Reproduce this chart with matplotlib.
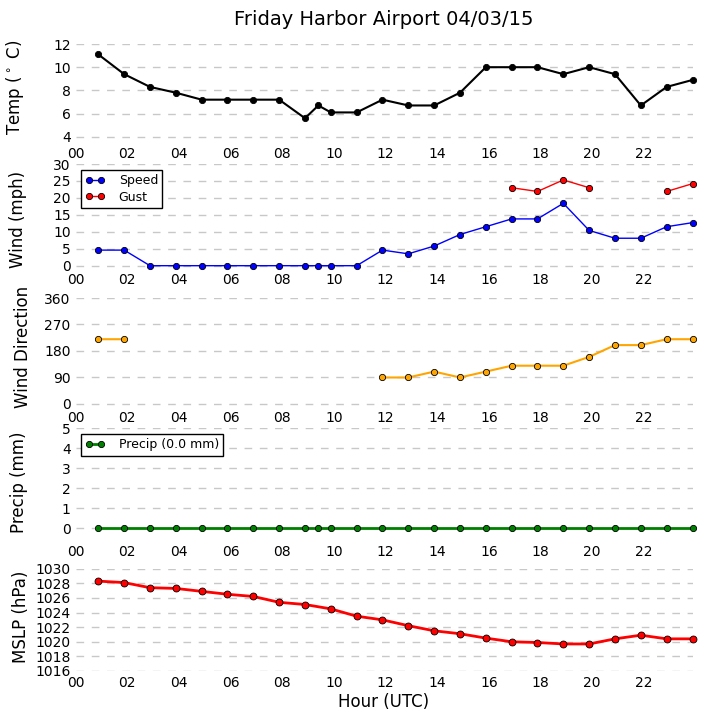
import numpy as np
import matplotlib
matplotlib.use('Agg')
import matplotlib.pyplot as plt

# ---------------- data ----------------
obs_times = ['00:53', '01:53', '02:53', '03:53', '04:53', '05:53', '06:53', '07:53',
             '08:53', '09:24', '09:53', '10:53', '11:53', '12:53', '13:53', '14:53',
             '15:53', '16:53', '17:53', '18:53', '19:53', '20:53', '21:53', '22:53', '23:53']
temp_c = [11.1, 9.4, 8.3, 7.8, 7.2, 7.2, 7.2, 7.2, 5.6, 6.7, 6.1, 6.1, 7.2,
          6.7, 6.7, 7.8, 10.0, 10.0, 10.0, 9.4, 10.0, 9.4, 6.7, 8.3, 8.9]
wind_speed = [4.6, 4.6, 0, 0, 0, 0, 0, 0, 0, 0, 0, 0, 4.6,
              3.5, 5.8, 9.2, 11.5, 13.8, 13.8, 18.4, 10.4, 8.1, 8.1, 11.5, 12.7]
gust_times = ['16:53', '17:53', '18:53', '19:53', '22:53', '23:53']
gust_vals = [23.0, 21.9, 25.3, 23.0, 21.9, 24.2]
wind_dir = [220, 220] + [np.nan] * 10 + [90, 90, 110, 90, 110, 130, 130, 130, 160, 200, 200, 220, 220]
precip_mm = [0.0] * 25
mslp = [1028.3, 1028.1, 1027.4, 1027.3, 1026.9, 1026.5, 1026.2, 1025.4, 1025.1, np.nan,
        1024.5, 1023.5, 1023.0, 1022.2, 1021.5, 1021.1, 1020.5, 1020.0, 1019.9, 1019.7,
        1019.7, 1020.4, 1020.9, 1020.4, 1020.4]

title = 'Friday Harbor Airport 04/03/15'
hour_ticks = list(range(0, 24, 2))
hour_labels = ['%02d' % h for h in hour_ticks]

# ---------------- derived ----------------
hours = np.array([int(t[:2]) + int(t[3:]) / 60.0 for t in obs_times])
gust_map = dict(zip(gust_times, gust_vals))
wind_gust = [gust_map.get(t, np.nan) for t in obs_times]

W, H = 705, 720
fig = plt.figure(figsize=(W / 100, H / 100), dpi=100)

x0, x1 = 75.5, 692.5


def add_ax(top, bottom):
    return fig.add_axes([x0 / W, 1 - bottom / H, (x1 - x0) / W, (bottom - top) / H])


grid_kw = dict(color='#c8c8c8', linestyle=(0, (5.5, 5.5)), linewidth=1)
mk = dict(marker='o', markeredgecolor='k', markeredgewidth=0.6, clip_on=False, zorder=3)


def style(ax, yticks, ylim, ylabel, lx, ly):
    for s in ax.spines.values():
        s.set_visible(False)
    ax.set_xlim(0, hours[-1])
    ax.set_xticks(hour_ticks)
    ax.set_xticklabels(hour_labels)
    ax.set_yticks(yticks)
    ax.set_ylim(*ylim)
    ax.tick_params(length=0, labelsize=10, pad=3.5)
    ax.yaxis.grid(True, **grid_kw)
    ax.set_axisbelow(True)
    ax.set_ylabel(ylabel, fontsize=12)
    ax.yaxis.set_label_coords(lx, ly)


def legend(ax):
    leg = ax.legend(loc='upper left', fontsize=9, fancybox=False, framealpha=1,
                    edgecolor='k', numpoints=2, handlelength=1.5, handletextpad=1.15,
                    borderpad=0.35, labelspacing=0.3, borderaxespad=0.45)
    leg.get_frame().set_linewidth(1.0)


# Temperature
ax1 = add_ax(44, 142)
ax1.plot(hours, temp_c, color='k', lw=1.5, markersize=4.5, **mk)
style(ax1, [4, 6, 8, 10, 12], (3.55, 12), r'Temp ($^\circ$ C)', -0.081, 0.556)
ax1.set_title(title, fontsize=14, pad=14)

# Wind speed / gust
ax2 = add_ax(164, 268)
ax2.plot(hours, wind_speed, color='blue', lw=1, markersize=4.5, label='Speed', **mk)
ax2.plot(hours, wind_gust, color='red', lw=1, markersize=4.5, label='Gust', **mk)
style(ax2, [0, 5, 10, 15, 20, 25, 30], (-0.68, 30), 'Wind (mph)', -0.078, 0.47)
legend(ax2)

# Wind direction
ax3 = add_ax(298, 406.4)
ax3.plot(hours, wind_dir, color='orange', lw=1.5, markersize=4.5, **mk)
style(ax3, [0, 90, 180, 270, 360], (-8.2, 360), 'Wind Direction', -0.070, 0.548)

# Precip
ax4 = add_ax(428.3, 539.7)
ax4.plot(hours, precip_mm, color='green', lw=2, markersize=4.5,
         label='Precip (%.1f mm)' % np.sum(precip_mm), **mk)
style(ax4, [0, 1, 2, 3, 4, 5], (-0.57, 5), 'Precip (mm)', -0.077, 0.518)
legend(ax4)

# MSLP
ax5 = add_ax(568.7, 671)
mslp_arr = np.array(mslp, dtype=float)
ok = ~np.isnan(mslp_arr)
ax5.plot(hours[ok], mslp_arr[ok], color='red', lw=2, markersize=5, **mk)
style(ax5, list(range(1016, 1031, 2)), (1016, 1030), 'MSLP (hPa)', -0.074, 0.531)
ax5.set_xlabel('Hour (UTC)', fontsize=12, labelpad=2)

fig.savefig('out.png', dpi=100)
